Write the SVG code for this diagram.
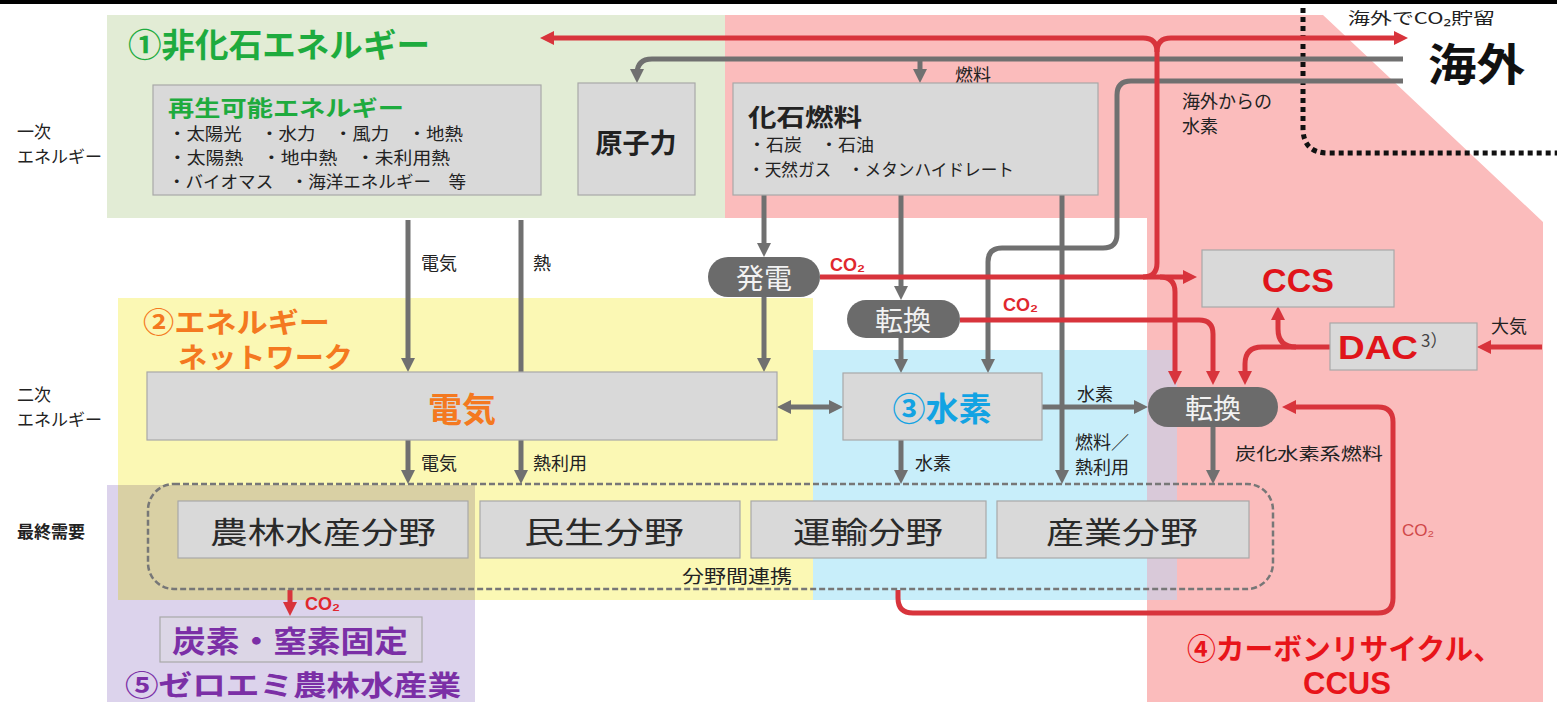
<svg xmlns="http://www.w3.org/2000/svg" width="1557" height="702" viewBox="0 0 1557 702">
<style>
text{font-family:"Noto Sans CJK JP","Noto Sans",sans-serif;dominant-baseline:central;fill:#222}
.b{font-weight:bold}
.lat{font-family:"Liberation Sans","Noto Sans CJK JP",sans-serif}
.lbl{font-size:18px}
.side{font-size:17px}
.box{fill:#d9d9d9;stroke:#a8a8a8;stroke-width:1.2}
.pill{fill:#6b6b6b}
.pt{fill:#f2f2f2;font-size:28px;text-anchor:middle}
.g{fill:none;stroke:#707070;stroke-width:5}
.r{fill:none;stroke:#d8343c;stroke-width:5}
.ga{marker-end:url(#ag)}
.ra{marker-end:url(#ar)}
.co{fill:#e0282e;font-weight:bold;font-size:18px}
.sec{font-size:30px;text-anchor:middle;fill:#2a2a2a}
.bul{font-size:17px}
</style>
<defs>
<marker id="ag" viewBox="0 0 10 10" refX="5" refY="5" markerWidth="14" markerHeight="14" markerUnits="userSpaceOnUse" orient="auto-start-reverse"><path d="M0,0 L10,5 L0,10 z" fill="#707070"/></marker>
<marker id="ar" viewBox="0 0 10 10" refX="5" refY="5" markerWidth="14" markerHeight="14" markerUnits="userSpaceOnUse" orient="auto-start-reverse"><path d="M0,0 L10,5 L0,10 z" fill="#d8343c"/></marker>
</defs>
<rect width="1557" height="702" fill="#fff"/>
<rect x="0" y="0" width="1557" height="4" fill="#000"/>
<g id="regions">
<rect x="107" y="15" width="618" height="203" fill="#e2ecd5"/>
<polygon points="725,15 1323,15 1543,222 1543,702 1147,702 1147,218 725,218" fill="#fbbcbc"/>
<rect x="118" y="298" width="695" height="302" fill="#fbf8b4"/>
<rect x="813" y="350" width="364" height="250" fill="#c8eefa"/>
<rect x="1147" y="350" width="30" height="250" fill="#d9c9d9"/>
<rect x="107" y="485" width="368" height="217" fill="#dcd3ec"/>
<rect x="118" y="485" width="357" height="115" fill="#d9d0a4"/>
<path d="M1303,8 V128 Q1303,153 1328,153 H1557" fill="none" stroke="#111" stroke-width="5" stroke-dasharray="5 4"/>
</g>
<g id="side-labels">
<text class="side" x="17" y="130">一次</text>
<text class="side" x="17" y="155">エネルギー</text>
<text class="side" x="17" y="393">二次</text>
<text class="side" x="17" y="418">エネルギー</text>
<text class="side b" x="17" y="530">最終需要</text>
</g>
<g id="region-titles">
<text class="b" x="128" y="43" font-size="33" textLength="302" lengthAdjust="spacingAndGlyphs" style="fill:#1eab3e">①非化石エネルギー</text>
<text class="b" x="143" y="321" font-size="28" textLength="187" lengthAdjust="spacingAndGlyphs" style="fill:#f47920">②エネルギー</text>
<text class="b" x="178" y="356" font-size="28" textLength="175" lengthAdjust="spacingAndGlyphs" style="fill:#f47920">ネットワーク</text>
<text class="b" x="1187" y="647" font-size="29" textLength="315" lengthAdjust="spacingAndGlyphs" style="fill:#e8141a">④カーボンリサイクル、</text>
<text class="b lat" x="1347" y="683" font-size="31" text-anchor="middle" style="fill:#e8141a">CCUS</text>
<text class="b" x="125" y="684" font-size="28" textLength="336" lengthAdjust="spacingAndGlyphs" style="fill:#7b2fa6">⑤ゼロエミ農林水産業</text>
</g>
<g id="connectors">
<path class="g ga" d="M1403,59 H652 Q637,59 637,74 V76"/>
<path class="g ga" d="M920,59 V76"/>
<path class="g ga" d="M1403,81 H1131 Q1117,81 1117,95 V234 Q1117,248 1103,248 H1002 Q988,248 988,262 V366"/>
<path class="g ga" d="M764,195 V250"/>
<path class="g ga" d="M901,195 V293"/>
<path class="g ga" d="M1062,195 V477"/>
<path class="g ga" d="M408,220 V365"/>
<path class="g" d="M521,220 V372"/>
<path class="g ga" d="M764,297 V365"/>
<path class="g ga" d="M901,338 V366"/>
<path class="g" d="M784,407 H836" marker-start="url(#ag)" marker-end="url(#ag)"/>
<path class="g ga" d="M1042,407 H1141"/>
<path class="g ga" d="M408,440 V477"/>
<path class="g ga" d="M521,440 V477"/>
<path class="g ga" d="M901,440 V477"/>
<path class="g ga" d="M1213,427 V477"/>
<path class="r ra" d="M1542,347 H1484"/>
<path class="r ra" d="M820,277 H1190"/>
<path class="r ra" d="M1143,277 Q1157,277 1157,263 V52 Q1157,38 1143,38 H547"/>
<path class="r ra" d="M1157,52 Q1157,38 1171,38 H1401"/>
<path class="r ra" d="M1160,277 Q1175,277 1175,292 V378"/>
<path class="r ra" d="M960,320 H1199 Q1213,320 1213,334 V378"/>
<path class="r ra" d="M1330,347 H1296 Q1278,347 1278,329 V313"/>
<path class="r ra" d="M1296,347 H1262 Q1245,347 1245,364 V378"/>
<path class="r ra" d="M898,590 V598 Q898,613 913,613 H1378 Q1393,613 1393,598 V422 Q1393,407 1378,407 H1289"/>
<path class="r ra" d="M290,590 V609"/>
<rect x="148" y="484" width="1125" height="105" rx="26" fill="none" stroke="#777" stroke-width="2.5" stroke-dasharray="6 3"/>
</g>
<g id="connector-labels">
<text x="955" y="74" class="lbl">燃料</text>
<text x="1348" y="17" font-size="16" textLength="147" lengthAdjust="spacingAndGlyphs">海外でCO₂貯留</text>
<text x="1182" y="100" class="lbl">海外からの</text>
<text x="1182" y="125" class="lbl">水素</text>
<text x="421" y="262" class="lbl">電気</text>
<text x="533" y="262" class="lbl">熱</text>
<text x="830" y="265" class="co lat">CO₂</text>
<text x="1003" y="305" class="co lat">CO₂</text>
<text x="1491" y="325" class="lbl">大気</text>
<text x="1077" y="393" class="lbl">水素</text>
<text x="1075" y="441" class="lbl">燃料／</text>
<text x="1075" y="466" class="lbl">熱利用</text>
<text x="1235" y="452" font-size="17" textLength="148" lengthAdjust="spacingAndGlyphs">炭化水素系燃料</text>
<text x="421" y="462" class="lbl">電気</text>
<text x="533" y="462" class="lbl">熱利用</text>
<text x="915" y="462" class="lbl">水素</text>
<text x="737" y="575" class="lbl" text-anchor="middle" textLength="110" lengthAdjust="spacingAndGlyphs">分野間連携</text>
<text x="1402" y="530" class="lat" font-size="17" style="fill:#d04848">CO₂</text>
<text x="305" y="604" class="co lat">CO₂</text>
</g>
<g id="n-renewable">
<rect class="box" x="153" y="85" width="388" height="110"/>
<text class="b" x="168" y="106" font-size="22" textLength="236" lengthAdjust="spacingAndGlyphs" style="fill:#1eab3e">再生可能エネルギー</text>
<text class="bul" x="168" y="132" textLength="295" lengthAdjust="spacingAndGlyphs">・太陽光　・水力　・風力　・地熱</text>
<text class="bul" x="168" y="156" textLength="282" lengthAdjust="spacingAndGlyphs">・太陽熱　・地中熱　・未利用熱</text>
<text class="bul" x="168" y="180" textLength="298" lengthAdjust="spacingAndGlyphs">・バイオマス　・海洋エネルギー　等</text>
</g>
<g id="n-nuclear">
<rect class="box" x="578" y="83" width="117" height="112"/>
<text class="b" x="636" y="141" font-size="27" text-anchor="middle">原子力</text>
</g>
<g id="n-fossil">
<rect class="box" x="733" y="83" width="365" height="112"/>
<text class="b" x="748" y="115" font-size="24" textLength="114" lengthAdjust="spacingAndGlyphs">化石燃料</text>
<text class="bul" x="748" y="143" textLength="126" lengthAdjust="spacingAndGlyphs">・石炭　・石油</text>
<text class="bul" x="748" y="168" textLength="266" lengthAdjust="spacingAndGlyphs">・天然ガス　・メタンハイドレート</text>
</g>
<g id="n-overseas">
<text class="b" x="1428" y="62" font-size="44" textLength="97" lengthAdjust="spacingAndGlyphs" style="fill:#111">海外</text>
</g>
<g id="n-hatsuden">
<rect class="pill" x="708" y="257" width="112" height="40" rx="20"/>
<text class="pt" x="764" y="277">発電</text>
</g>
<g id="n-tenkan1">
<rect class="pill" x="847" y="300" width="113" height="38" rx="19"/>
<text class="pt" x="903" y="319">転換</text>
</g>
<g id="n-ccs">
<rect class="box" x="1202" y="250" width="192" height="57"/>
<text class="b lat" x="1298" y="280" font-size="34" text-anchor="middle" style="fill:#e0141a">CCS</text>
</g>
<g id="n-dac">
<rect class="box" x="1330" y="323" width="147" height="47"/>
<text class="b lat" x="1338" y="347" font-size="34" textLength="80" lengthAdjust="spacingAndGlyphs" style="fill:#e0141a">DAC</text>
<text x="1421" y="339" font-size="17" style="fill:#444">3）</text>
</g>
<g id="n-denki">
<rect class="box" x="147" y="372" width="630" height="68"/>
<text class="b" x="462" y="407" font-size="34" text-anchor="middle" style="fill:#f47920">電気</text>
</g>
<g id="n-suiso">
<rect class="box" x="843" y="373" width="199" height="67"/>
<text class="b" x="942" y="407" font-size="33" text-anchor="middle" style="fill:#12a3e3">③水素</text>
</g>
<g id="n-tenkan2">
<rect class="pill" x="1148" y="387" width="130" height="40" rx="20"/>
<text class="pt" x="1213" y="407">転換</text>
</g>
<g id="n-agri">
<rect class="box" x="178" y="501" width="290" height="57"/>
<text class="sec" x="323" y="530" textLength="226" lengthAdjust="spacingAndGlyphs">農林水産分野</text>
</g>
<g id="n-minsei">
<rect class="box" x="480" y="501" width="260" height="57"/>
<text class="sec" x="604" y="530" textLength="160" lengthAdjust="spacingAndGlyphs">民生分野</text>
</g>
<g id="n-unyu">
<rect class="box" x="751" y="501" width="235" height="57"/>
<text class="sec" x="868" y="530" textLength="150" lengthAdjust="spacingAndGlyphs">運輸分野</text>
</g>
<g id="n-sangyo">
<rect class="box" x="997" y="501" width="252" height="57"/>
<text class="sec" x="1122" y="530" textLength="152" lengthAdjust="spacingAndGlyphs">産業分野</text>
</g>
<g id="n-fix">
<rect class="box" x="160" y="617" width="262" height="45" style="fill:#dcd6e6"/>
<text class="b" x="290" y="639" font-size="30" text-anchor="middle" textLength="236" lengthAdjust="spacingAndGlyphs" style="fill:#7b2fa6">炭素・窒素固定</text>
</g>
</svg>
